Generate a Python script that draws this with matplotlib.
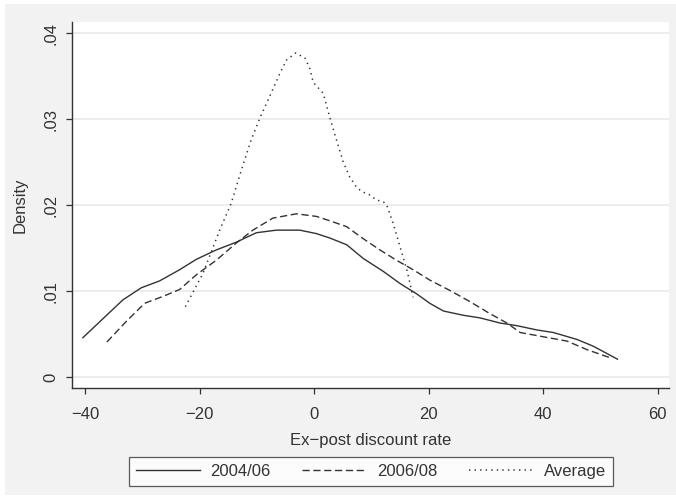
import matplotlib
matplotlib.use("Agg")
import matplotlib.pyplot as plt
from matplotlib.patches import Rectangle

# Kernel density curves
x_0406 = [-40.4, -36.9, -33.4, -30.2, -27.0, -23.5, -20.6, -17.1, -13.6, -10.1,
          -6.6, -2.5, 0.4, 2.7, 5.7, 8.6, 12.1, 15.0, 17.9, 20.2, 22.6, 26.1,
          29.0, 32.5, 35.4, 38.9, 41.8, 45.9, 48.8, 53.0]
y_0406 = [0.0046, 0.0068, 0.0090, 0.0104, 0.0112, 0.0125, 0.0137, 0.0148, 0.0157, 0.0168,
          0.0171, 0.0171, 0.0167, 0.0162, 0.0154, 0.0138, 0.0123, 0.0109, 0.0097, 0.0086,
          0.0077, 0.0072, 0.0069, 0.0063, 0.0060, 0.0055, 0.0052, 0.0044, 0.0036, 0.0021]

x_0608 = [-36.2, -32.8, -29.6, -26.4, -23.5, -20.6, -17.1, -13.6, -10.7, -7.2,
          -3.1, 0.4, 2.7, 5.7, 8.6, 11.5, 14.4, 17.3, 20.2, 23.7, 27.2, 30.7,
          33.7, 36.0, 40.1, 44.2, 47.7, 52.0]
y_0608 = [0.0041, 0.0065, 0.0086, 0.0094, 0.0102, 0.0119, 0.0136, 0.0156, 0.0171, 0.0185,
          0.0190, 0.0187, 0.0182, 0.0175, 0.0161, 0.0148, 0.0136, 0.0125, 0.0113, 0.0101,
          0.0088, 0.0074, 0.0063, 0.0052, 0.0047, 0.0042, 0.0032, 0.0022]

x_avg = [-22.5, -19.4, -16.5, -14.5, -12.7, -11.0, -9.5, -7.8, -6.0, -4.8, -3.2,
         -1.6, -0.75, -0.17, 1.6, 2.7, 3.9, 5.1, 6.2, 7.4, 8.3, 9.7, 10.9, 12.1,
         12.7, 13.8, 15.0, 16.2, 17.3]
y_avg = [0.0082, 0.0121, 0.0171, 0.0202, 0.0241, 0.0276, 0.0301, 0.0326, 0.0353, 0.0369, 0.0377,
         0.0371, 0.0359, 0.0343, 0.0330, 0.0303, 0.0276, 0.0250, 0.0233, 0.0221, 0.0216, 0.0212, 0.0206, 0.0204,
         0.0200, 0.0179, 0.0152, 0.0125, 0.0093]

series_labels = ["2004/06", "2006/08", "Average"]
x_ticks = [-40, -20, 0, 20, 40, 60]
y_ticks = [0, 0.01, 0.02, 0.03, 0.04]
y_tick_labels = ["0", ".01", ".02", ".03", ".04"]

plt.rcParams['font.family'] = ['Liberation Sans', 'DejaVu Sans']
plt.rcParams['lines.scale_dashes'] = False

W, H = 676, 497
fs = 12
fig = plt.figure(figsize=(W / 100, H / 100), dpi=100, facecolor='white')
# gray Stata-like graph region
fig.patches.append(Rectangle((5 / W, 2 / H), (W - 5) / W, (H - 6) / H,
                             transform=fig.transFigure, facecolor='#f2f2f2',
                             edgecolor='none', zorder=-10))

ax = fig.add_axes([72 / W, 1 - 388 / H, (669 - 72) / W, (388 - 22) / H])
ax.set_facecolor('white')

line_col = '#333333'
ax.plot(x_0406, y_0406, color=line_col, lw=1.0, linestyle='-', label=series_labels[0])
ax.plot(x_0608, y_0608, color=line_col, lw=1.0, linestyle=(0, (5.2, 2.6)), label=series_labels[1])
ax.plot(x_avg, y_avg, color=line_col, lw=1.1, linestyle=(0, (1.0, 3.0)), label=series_labels[2])

ax.set_xlim(-42.3, 62.0)
ax.set_ylim(-0.00125, 0.0413)

ax.set_xticks(x_ticks)
ax.set_xticklabels([str(t).replace('-', '\u2212') for t in x_ticks])
ax.set_yticks(y_ticks)
ax.set_yticklabels(y_tick_labels, rotation=90, va='center')

ax.grid(axis='y', color='#eaeaea', lw=1.3)
ax.set_axisbelow(True)

for side in ['top', 'right']:
    ax.spines[side].set_visible(False)
for side in ['left', 'bottom']:
    ax.spines[side].set_color('#333333')
    ax.spines[side].set_linewidth(1.0)

ax.tick_params(axis='both', direction='out', length=4.5, width=0.9,
               color='#333333', labelcolor='#333333', labelsize=fs)
ax.tick_params(axis='x', pad=9)
ax.tick_params(axis='y', pad=5)

ax.set_xlabel("Ex\u2212post discount rate", fontsize=fs, color='#333333', labelpad=8)
ax.set_ylabel("Density", fontsize=fs, color='#333333', labelpad=12)

leg = fig.legend(loc='center', bbox_to_anchor=(371 / W, 1 - 471.5 / H), ncol=3,
                 fontsize=fs, frameon=True, fancybox=False, edgecolor='#333333',
                 handlelength=3.84, handletextpad=0.66, columnspacing=1.9,
                 borderpad=0.42, borderaxespad=0)
leg.get_frame().set_linewidth(0.9)
leg.get_frame().set_facecolor('white')
for t in leg.get_texts():
    t.set_color('#333333')

fig.savefig('out.png', dpi=100, facecolor=fig.get_facecolor())
